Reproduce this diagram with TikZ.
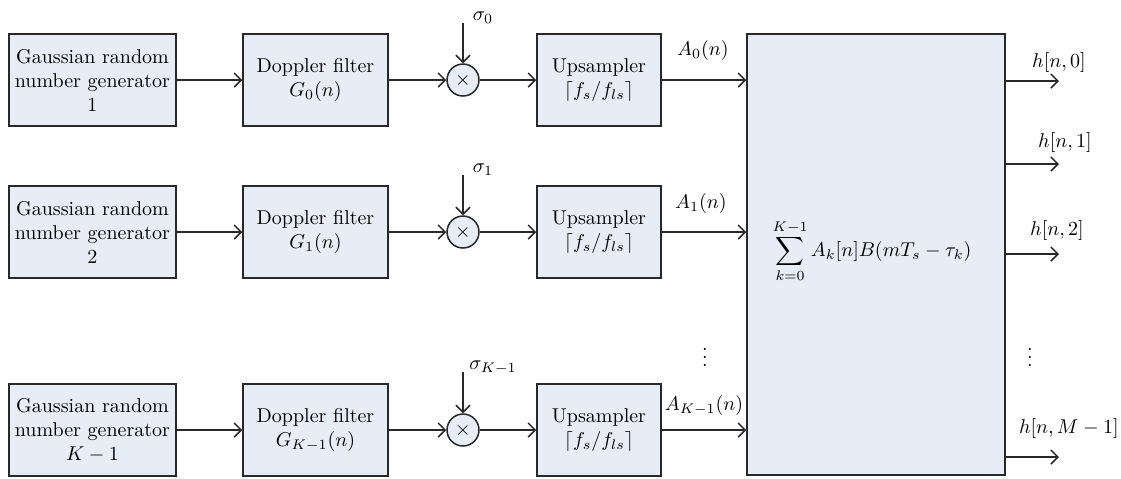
\documentclass[tikz,border=0pt]{standalone}
\usetikzlibrary{arrows.meta}
\definecolor{boxfill}{RGB}{230,237,246}
\definecolor{linec}{RGB}{40,40,40}
\begin{document}
\begin{tikzpicture}[x=0.5pt,y=-0.5pt,
  every node/.style={font=\fontsize{10}{12}\selectfont},
  blk/.style={draw=linec, fill=boxfill, line width=0.75pt, minimum height=46pt, align=center, inner sep=0pt},
  genbox/.style={blk, minimum width=83.5pt},
  dopbox/.style={blk, minimum width=72.5pt},
  upbox/.style={blk, minimum width=62pt},
  multc/.style={draw=linec, fill=boxfill, circle, line width=0.75pt, minimum size=16pt, inner sep=0pt},
  arr/.style={line width=0.75pt, draw=linec, -{Straight Barb[length=3.5pt,width=7pt]}},
  lbl/.style={inner sep=0pt}
]
\useasboundingbox (0,0) rectangle (1121,478);

% big box
\node[blk, minimum width=129pt, minimum height=220.5pt] (big) at (876,254.5) {};
\node[lbl] (sumf) at (872,251) {$\displaystyle\sum_{k=0}^{K-1} A_k[n]B(mT_s-\tau_k)$};

% row 1
\node[genbox] (gen1) at (92.5,80) {Gaussian random\\number generator\\1};
\node[dopbox] (dop1) at (315.5,80) {Doppler filter\\$G_0(n)$};
\node[multc] (m1) at (463,80) {$\times$};
\node[upbox] (up1) at (599,80) {Upsampler\\$\lceil f_s/f_{ls}\rceil$};
\coordinate (s1) at (463,23);
\node[lbl] (sig1) at (483,18) {$\sigma_0$};
\node[lbl] (a1) at (703,50) {$A_0(n)$};

% row 2
\node[genbox] (gen2) at (92.5,232) {Gaussian random\\number generator\\2};
\node[dopbox] (dop2) at (315.5,232) {Doppler filter\\$G_1(n)$};
\node[multc] (m2) at (463,232) {$\times$};
\node[upbox] (up2) at (599,232) {Upsampler\\$\lceil f_s/f_{ls}\rceil$};
\coordinate (s2) at (463,175);
\node[lbl] (sig2) at (483,170) {$\sigma_1$};
\node[lbl] (a2) at (701,203) {$A_1(n)$};

% row 3
\node[genbox] (gen3) at (92.5,430) {Gaussian random\\number generator\\$K-1$};
\node[dopbox] (dop3) at (315.5,430) {Doppler filter\\$G_{K-1}(n)$};
\node[multc] (m3) at (463,430) {$\times$};
\node[upbox] (up3) at (599,430) {Upsampler\\$\lceil f_s/f_{ls}\rceil$};
\coordinate (s3) at (463,372);
\node[lbl] (sig3) at (493,368) {$\sigma_{K-1}$};
\node[lbl] (a3) at (704,405) {$A_{K-1}(n)$};

\node[lbl] (dl) at (705,351) {$\vdots$};
\node[lbl] (dr) at (1030,351) {$\vdots$};

\foreach \i in {1,2,3}{
  \draw[arr] (gen\i) -- (dop\i);
  \draw[arr] (dop\i) -- (m\i);
  \draw[arr] (m\i) -- (up\i);
  \draw[arr] (s\i) -- (m\i);
  \draw[arr] (up\i.east) -- (up\i.east -| big.west);
}

% outputs
\coordinate (o0) at (1059,81);
\coordinate (o1) at (1059,164);
\coordinate (o2) at (1059,254);
\coordinate (o3) at (1059,457);
\foreach \i in {0,1,2,3}{
  \draw[arr] (o\i -| big.east) -- (o\i);
}
\node[lbl] (h0) at (1059,62) {$h[n,0]$};
\node[lbl] (h1) at (1065,142) {$h[n,1]$};
\node[lbl] (h2) at (1057,230) {$h[n,2]$};
\node[lbl, anchor=east] (h3) at (1119,428) {$h[n,M-1]$};
\end{tikzpicture}
\end{document}
